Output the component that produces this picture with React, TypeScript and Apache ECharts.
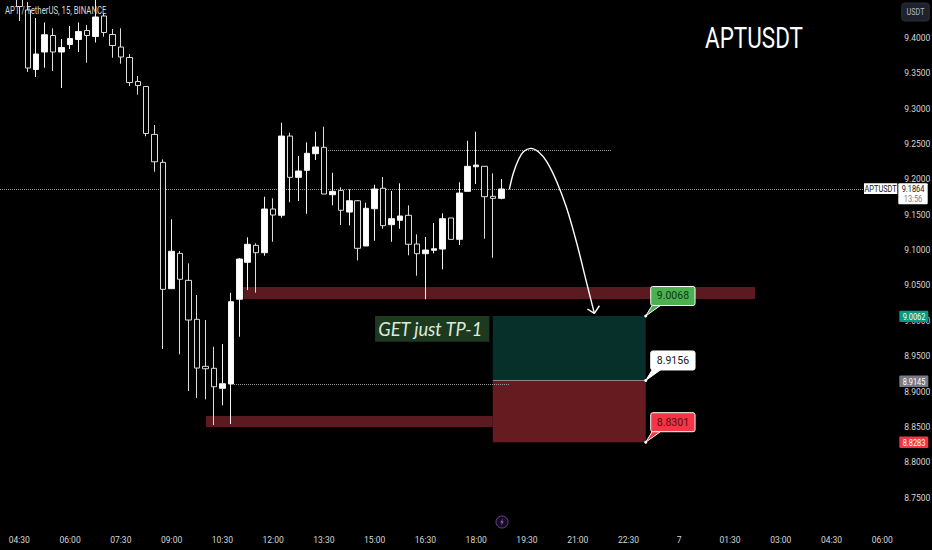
import React, { useEffect, useRef } from "react";
import * as echarts from "echarts";

const tickLabels = ["04:30","06:00","07:30","09:00","10:30","12:00","13:30","15:00","16:30","18:00","19:30","21:00","22:30","7","01:30","03:00","04:30","06:00"];

// [open, close, low, high]
const candlesA = [
  [9.4551,9.4445,9.4240,9.4565],[9.4396,9.3575,9.3519,9.4509],[9.3554,9.3773,9.3448,9.4282],[9.3802,9.4046,9.3579,9.4219],
  [9.4035,9.3802,9.3533,9.4137],[9.3802,9.3865,9.3292,9.3985],[9.3908,9.3992,9.3844,9.4169],[9.3978,9.4091,9.3802,9.4219],
  [9.4106,9.4035,9.3650,9.4183],[9.4021,9.4297,9.3936,9.4565],[9.4311,9.4077,9.4018,9.4339],[9.4049,9.3893,9.3721,9.4127],
  [9.3872,9.3731,9.3636,9.4137],[9.3724,9.3370,9.3321,9.3773],[9.3384,9.3328,9.3198,9.3462],[9.3314,9.2649,9.2609,9.3321],
  [9.2636,9.2249,9.2108,9.2769],[9.2241,9.0445,8.9601,9.2284],[9.0454,9.0983,9.0454,9.1435],[9.0954,9.0587,8.9526,9.0987],
];
const candlesB = [
  [9.0572,9.0011,8.9007,9.0813],[9.0021,8.9332,8.8908,9.0365],[8.9356,8.9322,8.8889,9.0011],[8.9328,8.9067,8.8526,8.9633],
  [8.9045,8.9110,8.8804,8.9671],[8.9106,9.0270,8.8540,9.0397],[9.0305,9.0874,8.9775,9.0888],[9.0827,9.1082,9.0435,9.1181],
  [9.1067,9.0963,9.0397,9.1096],[9.0963,9.1581,9.0920,9.1755],[9.1581,9.1496,9.1118,9.1732],[9.1492,9.2613,9.1458,9.2802],
  [9.2613,9.2029,9.1676,9.2660],[9.2029,9.2118,9.1694,9.2331],[9.2128,9.2369,9.1514,9.2524],[9.2363,9.2458,9.2274,9.2674],
  [9.2454,9.1793,9.1793,9.2745],[9.1783,9.1831,9.1633,9.2094],[9.1845,9.1563,9.1355,9.1888],[9.1538,9.1698,9.1350,9.1860],
];
const candlesC = [
  [9.1698,9.1025,9.0855,9.1708],[9.1058,9.1591,9.1058,9.1670],[9.1585,9.1864,9.1133,9.1925],[9.1874,9.1345,9.1302,9.2034],
  [9.1359,9.1444,9.1118,9.1836],[9.1421,9.1482,9.1302,9.1944],[9.1492,9.1082,9.0926,9.1633],[9.1086,9.0949,9.0638,9.1223],
  [9.0949,9.1001,9.0304,9.1185],[9.0997,9.1019,9.0954,9.1383],[9.1015,9.1444,9.0728,9.1520],[9.1454,9.1152,9.1152,9.1454],
  [9.1152,9.1807,9.1072,9.1959],[9.1831,9.2185,9.1831,9.2547],[9.2179,9.2203,9.1935,9.2674],[9.2185,9.1755,9.1161,9.2189],
  [9.1761,9.1732,9.0892,9.2086],[9.1732,9.1864,9.1718,9.2005],
];

// zones, x in bars
const zoneStart = [29.48, 25.07, 58.96, 58.96];
const zoneEnd = [89.96, 58.96, 77.04, 77.04];
const zoneTop = [9.0478, 8.8653, 9.0068, 8.9156];
const zoneBottom = [9.0308, 8.8498, 8.9156, 8.8283];

const dottedStart = [39.49, 28.38, 0.72];
const dottedEnd = [72.94, 61.0, 102.85];
const dottedPrice = [9.2411, 8.9101, 9.1864];

const curveBars = [60.92,61.39,61.98,62.58,63.45,64.35,65.34,66.52,67.7,68.89,70.07,70.97];
const curvePrices = [9.186,9.2086,9.2274,9.2391,9.2439,9.2391,9.225,9.1967,9.1591,9.1096,9.053,9.0106];
const headBars = [70.14, 70.97, 71.56];
const headPrices = [9.0167, 9.0106, 9.0213];

const calloutLabels = ["9.0068", "8.9156", "8.8301"];
const calloutPrices = [9.0068, 8.9156, 8.8283];
const axisTagLabels = ["9.0062", "8.9145", "8.8283"];
const axisTagPrices = [9.0062, 8.9145, 8.8283];
const lastPrice = 9.1864;
const lastLabel = "9.1864";
const countdown = "13:56";
const note = "GET just TP-1";
const symbol = "APTUSDT";
const header = "APT / TetherUS, 15, BINANCE";
const currency = "USDT";

const SANS = "Roboto, sans-serif";
const calloutFill = ["#4caf50", "#ffffff", "#f23645"];
const calloutText = ["#0c3a10", "#131722", "#5a0b12"];
const tagFill = ["#089981", "#787b86", "#f23645"];
const zoneFill = ["#5a1a20", "#5a1a20", "#07302a", "#661b21"];

const tagText = (text: string, x: number, y: number, fill: string) => ({
  type: "text", x, y, scaleX: 0.78,
  style: { text, x: 0, y: 0, fill, fontSize: 9.5, fontFamily: SANS, align: "center", verticalAlign: "middle" },
});

export default function App() {
  const ref = useRef<HTMLDivElement>(null);
  useEffect(() => {
    const chart = echarts.init(ref.current!, undefined, { renderer: "svg" });
    const lead = 3;
    const total = 108;
    const categories = Array.from({ length: total }, (_, i) =>
      i >= lead && (i - lead) % 6 === 0 ? tickLabels[(i - lead) / 6] ?? "" : ""
    );
    const candles = [
      ...Array.from({ length: lead }, () => ["-", "-", "-", "-"]),
      ...candlesA, ...candlesB, ...candlesC,
    ];

    chart.setOption({
      animation: false,
      backgroundColor: "#000000",
      grid: { left: -6.08, top: 2.62, width: 905.3, height: 530.3, show: false, outerBoundsMode: "none", containLabel: false },
      xAxis: [
        {
          type: "category", data: categories, boundaryGap: false,
          axisLine: { show: false }, axisTick: { show: false }, splitLine: { show: false },
          axisLabel: {
            interval: 0, margin: 3, color: "#d6d6d6", fontSize: 8.5, fontFamily: SANS,
            hideOverlap: false,
          },
        },
        { type: "value", min: 0, max: total - 1, show: false, splitLine: { show: false } },
      ],
      yAxis: {
        type: "value", position: "right", min: 8.7, max: 9.45, interval: 0.05,
        axisLine: { show: false }, axisTick: { show: false }, splitLine: { show: false },
        axisLabel: {
          margin: 5, color: "#d6d6d6", fontSize: 8.5, fontFamily: SANS,
          formatter: (v: number) => (v < 8.71 || v > 9.44 ? "" : v.toFixed(4)),
        },
      },
      graphic: [
        { type: "text", z: 20, x: 5, y: 6, scaleX: 0.78, style: { text: header, fill: "#d8d8d8", fontSize: 10, fontFamily: SANS } },
        { type: "text", z: 20, x: 705, y: 23, scaleX: 0.775, style: { text: symbol, fill: "#ffffff", fontSize: 29, fontFamily: SANS } },
        { type: "rect", z: 20, shape: { x: 901.7, y: 3, width: 27.6, height: 18, r: 3 }, style: { fill: "#1e222d", stroke: "#2a2e39" } },
        { type: "text", z: 21, x: 915.5, y: 12, scaleX: 0.8, style: { text: currency, fill: "#b2b5be", fontSize: 9, fontFamily: SANS, align: "center", verticalAlign: "middle" } },
        { type: "circle", z: 20, shape: { cx: 502, cy: 522, r: 6 }, style: { fill: "#160c20", stroke: "#6a3f93", lineWidth: 1 } },
        { type: "polygon", z: 21, shape: { points: [[503.2, 518], [500.2, 522.6], [502, 522.6], [500.8, 526], [503.8, 521.4], [502, 521.4]] }, style: { fill: "#a25fc9" } },
      ],
      series: [
        {
          type: "custom", z: 1, silent: true, xAxisIndex: 1, yAxisIndex: 0,
          data: zoneStart.map((s, i) => [s, zoneTop[i], zoneEnd[i], zoneBottom[i]]),
          renderItem: (p: any, api: any) => {
            const a = api.coord([api.value(0), api.value(1)]);
            const b = api.coord([api.value(2), api.value(3)]);
            return { type: "rect", shape: { x: a[0], y: a[1], width: b[0] - a[0], height: b[1] - a[1] }, style: { fill: zoneFill[p.dataIndex] } };
          },
        },
        {
          type: "custom", z: 1, silent: true, xAxisIndex: 1, yAxisIndex: 0,
          data: dottedStart.map((s, i) => [s, dottedPrice[i], dottedEnd[i]]),
          renderItem: (_: any, api: any) => {
            const a = api.coord([api.value(0), api.value(1)]);
            const b = api.coord([api.value(2), api.value(1)]);
            return { type: "line", shape: { x1: a[0], y1: Math.round(a[1]) + 0.5, x2: b[0], y2: Math.round(a[1]) + 0.5 }, style: { stroke: "#9a9a9a", lineWidth: 1, lineDash: [1, 1] } };
          },
        },
        {
          type: "custom", z: 1, silent: true, xAxisIndex: 1, yAxisIndex: 0,
          data: [[zoneStart[2], zoneBottom[2], zoneEnd[2]]],
          renderItem: (_: any, api: any) => {
            const a = api.coord([api.value(0), api.value(1)]);
            const b = api.coord([api.value(2), api.value(1)]);
            return { type: "line", shape: { x1: a[0], y1: a[1], x2: b[0], y2: a[1] }, style: { stroke: "#8a8a8a", lineWidth: 1 } };
          },
        },
        {
          type: "candlestick", z: 2, silent: true, clip: false, barWidth: 6, data: candles,
          itemStyle: { color: "#ffffff", color0: "#000000", borderColor: "#f4f4f4", borderColor0: "#dcdcdc", borderWidth: 1 },
        },
        {
          type: "line", z: 3, silent: true, xAxisIndex: 1, yAxisIndex: 0, smooth: 0.35, showSymbol: false,
          data: curveBars.map((b, i) => [b, curvePrices[i]]),
          lineStyle: { color: "#ffffff", width: 1.4 },
        },
        {
          type: "line", z: 3, silent: true, xAxisIndex: 1, yAxisIndex: 0, showSymbol: false,
          data: headBars.map((b, i) => [b, headPrices[i]]),
          lineStyle: { color: "#ffffff", width: 1.4 },
        },
        {
          type: "custom", z: 4, silent: true, xAxisIndex: 1, yAxisIndex: 0,
          data: [[zoneStart[2], zoneTop[2]]],
          renderItem: (_: any, api: any) => {
            const a = api.coord([api.value(0), api.value(1)]);
            return {
              type: "group",
              children: [
                { type: "rect", shape: { x: a[0] - 117.7, y: a[1], width: 114.3, height: 25.7 }, style: { fill: "#1d3a20" } },
                { type: "text", x: a[0] - 62.5, y: a[1] + 12.5, scaleX: 0.96, style: { text: note, x: 0, y: 0, fill: "#dcebdc", fontSize: 19, fontStyle: "italic", fontFamily: "Lato, sans-serif", align: "center", verticalAlign: "middle" } },
              ],
            };
          },
        },
        {
          type: "custom", z: 6, silent: true, xAxisIndex: 1, yAxisIndex: 0,
          data: calloutPrices.map((p) => [zoneEnd[2], p]),
          renderItem: (q: any, api: any) => {
            const a = api.coord([api.value(0), api.value(1)]);
            const i = q.dataIndex;
            const x = a[0] + 5;
            const top = a[1] - 29.5;
            const h = 19;
            return {
              type: "group",
              children: [
                { type: "polygon", shape: { points: [[a[0], a[1]], [x + 2, top + h - 1], [x + 11, top + h - 1]] }, style: { fill: calloutFill[i], stroke: "#ffffff", lineWidth: 1 } },
                { type: "circle", shape: { cx: a[0], cy: a[1], r: 1.5 }, style: { fill: "#ffffff" } },
                { type: "rect", shape: { x, y: top, width: 44.3, height: h, r: 2 }, style: { fill: calloutFill[i], stroke: "#ffffff", lineWidth: 1 } },
                { type: "text", style: { text: calloutLabels[i], x: x + 22.2, y: top + h / 2, fill: calloutText[i], fontSize: 10.5, fontFamily: SANS, align: "center", verticalAlign: "middle" } },
              ],
            };
          },
        },
        {
          type: "custom", z: 6, silent: true, xAxisIndex: 1, yAxisIndex: 0,
          data: axisTagPrices.map((p, i) => [i, p]),
          renderItem: (q: any, api: any) => {
            const y = api.coord([0, api.value(1)])[1];
            const i = q.dataIndex;
            return {
              type: "group",
              children: [
                { type: "rect", shape: { x: 899.3, y: y - 5.7, width: 29, height: 11.4, r: 1 }, style: { fill: tagFill[i] } },
                tagText(axisTagLabels[i], 914, y, "#ffffff"),
              ],
            };
          },
        },
        {
          type: "custom", z: 6, silent: true, xAxisIndex: 1, yAxisIndex: 0,
          data: [[0, lastPrice]],
          renderItem: (_: any, api: any) => {
            const y = api.coord([0, api.value(1)])[1];
            return {
              type: "group",
              children: [
                { type: "rect", shape: { x: 864, y: y - 5.7, width: 33.3, height: 10.7 }, style: { fill: "#ffffff" } },
                tagText(symbol, 880.6, y - 0.3, "#131722"),
                { type: "rect", shape: { x: 898.3, y: y - 5.7, width: 29.4, height: 21, r: 1 }, style: { fill: "#ffffff" } },
                tagText(lastLabel, 913, y - 0.3, "#131722"),
                tagText(countdown, 913, y + 10, "#787b86"),
              ],
            };
          },
        },
      ],
    });
    return () => chart.dispose();
  }, []);
  return (
    <div
      ref={ref}
      style={{ position: "absolute", left: 0, top: 0, width: 932, height: 550, background: "#000" }}
    />
  );
}
